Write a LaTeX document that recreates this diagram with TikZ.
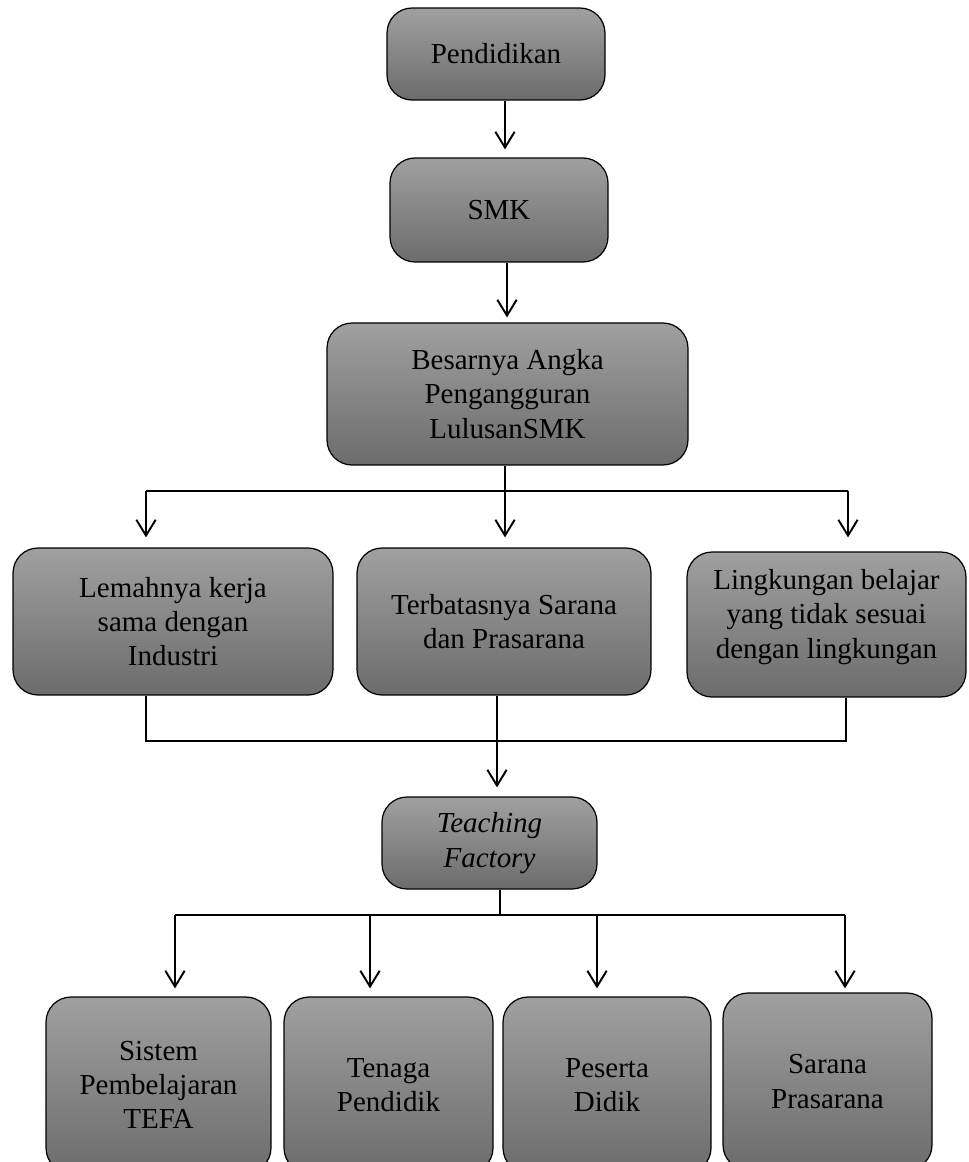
\documentclass[tikz,border=0pt]{standalone}
\usepackage{fontspec}
\setmainfont{Liberation Serif}
\usetikzlibrary{arrows.meta,calc}
\definecolor{boxtop}{RGB}{160,160,160}
\definecolor{boxbot}{RGB}{108,108,108}
\tikzset{
  boxfont/.style={font=\fontsize{16.5}{19.5}\selectfont},
  box/.style={draw=black, line width=0.7pt, rounded corners=0.5cm,
    top color=boxtop, bottom color=boxbot, align=center, inner sep=2pt, boxfont},
  txt/.style={align=center, inner sep=0pt, boxfont},
  conn/.style={line width=1.1pt, black},
  arr/.style={conn, -{Straight Barb[length=9pt,width=11pt,line width=1.1pt]}},
}
\begin{document}
\begin{tikzpicture}[x=0.02cm,y=-0.02cm]
\useasboundingbox (0,0) rectangle (968,1162);
\clip (0,0) rectangle (968,1162);

% boxes
\node[box, minimum width=4.36cm, minimum height=1.84cm] (p) at (496,54) {Pendidikan};
\node[box, minimum width=4.36cm, minimum height=2.08cm] (s) at (499,210) {SMK};
\node[box, minimum width=7.22cm, minimum height=2.84cm] (b3) at (507.5,394) {Besarnya Angka\\Pengangguran\\LulusanSMK};
\node[box, minimum width=6.4cm, minimum height=2.94cm] (L) at (173,621.5) {Lemahnya kerja\\sama dengan\\Industri};
\node[box, minimum width=5.88cm, minimum height=2.94cm] (M) at (504,621.5) {Terbatasnya Sarana\\dan Prasarana};
\node[box, minimum width=5.58cm, minimum height=2.9cm] (R) at (826.5,624.5) {};
\node[txt] (Rt) at (826.5,617) {Lingkungan belajar\\yang tidak sesuai\\dengan lingkungan};
\node[box, minimum width=4.3cm, minimum height=1.84cm] (tf) at (489.5,843) {\textit{Teaching}\\\textit{Factory}};
\node[box, minimum width=4.5cm, minimum height=3.52cm] (B1) at (158.5,1085) {Sistem\\Pembelajaran\\TEFA};
\node[box, minimum width=4.18cm, minimum height=3.52cm] (B2) at (388.5,1085) {Tenaga\\Pendidik};
\node[box, minimum width=4.16cm, minimum height=3.52cm] (B3) at (607,1085) {Peserta\\Didik};
\node[box, minimum width=4.18cm, minimum height=3.54cm] (B4) at (827.5,1081.5) {Sarana\\Prasarana};

% junction coordinates
\coordinate (ax1) at (505,0);
\coordinate (ax2) at (507,0);
\coordinate (j) at (505,491);
\coordinate (hL) at (146,491);
\coordinate (hR) at (848,491);
\coordinate (gL) at (146,741);
\coordinate (gR) at (846,741);
\coordinate (gM) at (497,741);
\coordinate (k) at (500,915);
\coordinate (kL) at (175,915);
\coordinate (k2) at (370,915);
\coordinate (k3) at (597,915);
\coordinate (kR) at (845,915);

% top chain
\draw[arr, shorten >=0.16cm] (p.south -| ax1) -- (s.north -| ax1);
\draw[arr, shorten >=0.1cm] (s.south -| ax2) -- (b3.north -| ax2);

% branch to row 3
\draw[conn] (b3.south -| j) -- (j);
\draw[conn] (hL) -- (hR);
\draw[arr, shorten >=0.2cm] (hL) -- (hL |- L.north);
\draw[arr, shorten >=0.2cm] (j) -- (j |- M.north);
\draw[arr, shorten >=0.28cm] (hR) -- (hR |- R.north);

% merge to Teaching Factory
\draw[conn] (gL |- L.south) -- (gL) -- (gR) -- (gR |- R.south);
\draw[arr, shorten >=0.18cm] (gM |- M.south) -- (gM |- tf.north);

% branch to bottom row
\draw[conn] (tf.south -| k) -- (k);
\draw[conn] (kL) -- (kR);
\draw[arr, shorten >=0.16cm] (kL) -- (kL |- B1.north);
\draw[arr, shorten >=0.16cm] (k2) -- (k2 |- B2.north);
\draw[arr, shorten >=0.16cm] (k3) -- (k3 |- B3.north);
\draw[arr, shorten >=0.08cm] (kR) -- (kR |- B4.north);
\end{tikzpicture}
\end{document}
